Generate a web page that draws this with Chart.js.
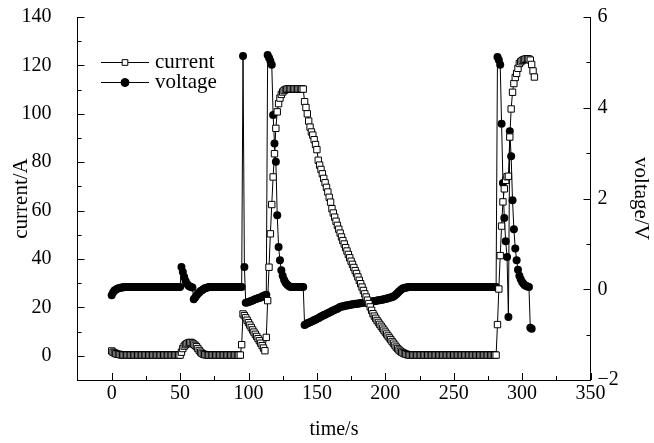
<!DOCTYPE html>
<html>
<head>
<meta charset="utf-8">
<script src="https://cdn.jsdelivr.net/npm/chart.js@4.4.1/dist/chart.umd.min.js"></script>
<style>
  html, body { margin: 0; padding: 0; background: #fff; }
  #wrap { width: 654px; height: 443px; }
</style>
</head>
<body>
<div id="wrap"><canvas id="chart" width="654" height="443"></canvas></div>
<script>
// one sample per second, 0 .. 309 s
const timeS = Array.from({ length: 310 }, (_, i) => i);

// current/A
const currentA = [
  2.0, 1.5, 1.2, 0.9, 0.7, 0.6, 0.5, 0.4, 0.4, 0.3,            // 0
  0.3, 0.3, 0.3, 0.3, 0.3, 0.3, 0.3, 0.3, 0.3, 0.3,            // 10
  0.3, 0.3, 0.3, 0.3, 0.3, 0.3, 0.3, 0.3, 0.3, 0.3,            // 20
  0.3, 0.3, 0.3, 0.3, 0.3, 0.3, 0.3, 0.3, 0.3, 0.3,            // 30
  0.3, 0.3, 0.3, 0.3, 0.3, 0.3, 0.3, 0.3, 0.3, 0.3,            // 40
  0.3, 1.5, 3.0, 4.0, 4.6, 5.0, 5.3, 5.5, 5.5, 5.2,            // 50
  4.8, 4.3, 3.8, 3.0, 2.2, 1.5, 1.0, 0.7, 0.5, 0.4,            // 60
  0.3, 0.3, 0.3, 0.3, 0.3, 0.3, 0.3, 0.3, 0.3, 0.3,            // 70
  0.3, 0.3, 0.3, 0.3, 0.3, 0.3, 0.3, 0.3, 0.3, 0.3,            // 80
  0.3, 0.3, 0.3, 0.3, 0.3, 4.6, 17.3, 16.6, 15.7, 14.7,        // 90
  13.7, 12.7, 11.7, 10.7, 9.8, 8.9, 8.0, 7.1, 6.2, 5.2,        // 100
  4.2, 3.2, 2.1, 7.6, 22.8, 36.6, 50.4, 62.5, 73.9, 83.5,      // 110
  94.0, 100.8, 104.2, 106.5, 108.0, 109.0, 109.6, 110.0, 110.2, 110.3, // 120
  110.3, 110.3, 110.3, 110.3, 110.3, 110.3, 110.3, 110.3, 110.3, 110.3, // 130
  110.2, 105.0, 102.6, 100.0, 97.0, 94.5, 92.5, 91.2, 89.3, 87.3,      // 140
  85.2, 80.8, 78.8, 77.0, 75.2, 73.3, 71.5, 69.6, 67.7, 65.5,  // 150
  63.5, 60.8, 59.0, 57.3, 55.6, 53.9, 52.3, 50.7, 49.1, 47.6,  // 160
  46.2, 44.7, 43.3, 41.9, 40.5, 39.1, 37.8, 36.5, 35.2, 34.0,  // 170
  32.6, 31.2, 29.8, 28.4, 27.0, 25.6, 24.3, 23.0, 21.6, 20.2,  // 180
  18.8, 17.4, 16.4, 15.5, 14.6, 13.8, 13.0, 12.2, 11.4, 10.6,  // 190
  9.8, 9.0, 8.2, 7.4, 6.7, 5.9, 5.2, 4.4, 3.6, 3.0,            // 200
  2.4, 1.9, 1.5, 1.2, 0.9, 0.7, 0.5, 0.4, 0.3, 0.3,            // 210
  0.3, 0.3, 0.3, 0.3, 0.3, 0.3, 0.3, 0.3, 0.3, 0.3,            // 220
  0.3, 0.3, 0.3, 0.3, 0.3, 0.3, 0.3, 0.3, 0.3, 0.3,            // 230
  0.3, 0.3, 0.3, 0.3, 0.3, 0.3, 0.3, 0.3, 0.3, 0.3,            // 240
  0.3, 0.3, 0.3, 0.3, 0.3, 0.3, 0.3, 0.3, 0.3, 0.3,            // 250
  0.3, 0.3, 0.3, 0.3, 0.3, 0.3, 0.3, 0.3, 0.3, 0.3,            // 260
  0.3, 0.3, 0.3, 0.3, 0.3, 0.3, 0.3, 0.3, 0.3, 0.3,            // 270
  0.3, 0.3, 12.9, 27.6, 41.4, 53.6, 63.6, 69.0, 72.5, 74.0,    // 280
  74.2, 90.4, 102.0, 108.9, 112.5, 115.0, 116.7, 118.8, 120.8, 121.5, // 290
  122.0, 122.3, 122.5, 122.7, 122.7, 122.6, 122.2, 120.4, 117.7, 115.2  // 300
];

// voltage/V (no samples after 307 s)
const voltageV = [
  -0.13, -0.07, -0.03, -0.01, 0.01, 0.02, 0.03, 0.04, 0.04, 0.05,    // 0
  0.05, 0.05, 0.05, 0.05, 0.05, 0.05, 0.05, 0.05, 0.05, 0.05,        // 10
  0.05, 0.05, 0.05, 0.05, 0.05, 0.05, 0.05, 0.05, 0.05, 0.05,        // 20
  0.05, 0.05, 0.05, 0.05, 0.05, 0.05, 0.05, 0.05, 0.05, 0.05,        // 30
  0.05, 0.05, 0.05, 0.05, 0.05, 0.05, 0.05, 0.05, 0.05, 0.05,        // 40
  0.05, 0.49, 0.38, 0.27, 0.18, 0.12, 0.08, 0.06, 0.05, 0.04,        // 50
  -0.22, -0.18, -0.14, -0.10, -0.07, -0.04, -0.02, 0.00, 0.02, 0.03, // 60
  0.04, 0.05, 0.05, 0.05, 0.05, 0.05, 0.05, 0.05, 0.05, 0.05,        // 70
  0.05, 0.05, 0.05, 0.05, 0.05, 0.05, 0.05, 0.05, 0.05, 0.05,        // 80
  0.05, 0.05, 0.05, 0.05, 0.05, 0.05, 5.14, 0.49, -0.30, -0.29,      // 90
  -0.28, -0.27, -0.26, -0.25, -0.23, -0.22, -0.21, -0.20, -0.19, -0.18, // 100
  -0.16, -0.15, -0.13, -0.12, 5.16, 5.10, 5.03, 4.95, 3.84, 3.21,    // 110
  2.81, 1.63, 0.93, 0.64, 0.42, 0.30, 0.21, 0.15, 0.11, 0.08,        // 120
  0.06, 0.05, 0.05, 0.05, 0.05, 0.05, 0.05, 0.05, 0.05, 0.05,        // 130
  0.05, -0.79, -0.77, -0.75, -0.74, -0.73, -0.71, -0.70, -0.68, -0.67, // 140
  -0.65, -0.64, -0.62, -0.60, -0.59, -0.57, -0.56, -0.54, -0.53, -0.51, // 150
  -0.50, -0.48, -0.47, -0.45, -0.44, -0.43, -0.41, -0.39, -0.38, -0.38, // 160
  -0.37, -0.36, -0.36, -0.35, -0.34, -0.34, -0.33, -0.33, -0.32, -0.32, // 170
  -0.32, -0.31, -0.31, -0.30, -0.30, -0.29, -0.29, -0.28, -0.28, -0.28, // 180
  -0.27, -0.27, -0.26, -0.26, -0.25, -0.24, -0.24, -0.23, -0.23, -0.22, // 190
  -0.21, -0.21, -0.20, -0.19, -0.18, -0.17, -0.16, -0.14, -0.11, -0.08, // 200
  -0.05, -0.02, 0.00, 0.02, 0.03, 0.04, 0.04, 0.05, 0.05, 0.05,      // 210
  0.05, 0.05, 0.05, 0.05, 0.05, 0.05, 0.05, 0.05, 0.05, 0.05,        // 220
  0.05, 0.05, 0.05, 0.05, 0.05, 0.05, 0.05, 0.05, 0.05, 0.05,        // 230
  0.05, 0.05, 0.05, 0.05, 0.05, 0.05, 0.05, 0.05, 0.05, 0.05,        // 240
  0.05, 0.05, 0.05, 0.05, 0.05, 0.05, 0.05, 0.05, 0.05, 0.05,        // 250
  0.05, 0.05, 0.05, 0.05, 0.05, 0.05, 0.05, 0.05, 0.05, 0.05,        // 260
  0.05, 0.05, 0.05, 0.05, 0.05, 0.05, 0.05, 0.05, 0.05, 0.05,        // 270
  0.05, 0.05, 5.12, 5.05, 4.95, 3.65, 2.34, 1.57, 1.06, 0.71,        // 280
  -0.61, 3.48, 2.93, 1.96, 1.32, 0.90, 0.64, 0.43, 0.30, 0.22,       // 290
  0.16, 0.12, 0.09, 0.07, 0.06, 0.05, -0.85, -0.87, null, null       // 300
];

// tick labels
const timeTicks = [0, 50, 100, 150, 200, 250, 300, 350];
const timeMinor = [25, 75, 125, 175, 225, 275, 325];
const currentTicks = [0, 20, 40, 60, 80, 100, 120, 140];
const currentMinor = [10, 30, 50, 70, 90, 110, 130];
const voltageTicks = [-2, 0, 2, 4, 6];
const voltageMinor = [-1, 1, 3, 5];

const FONT = "'Liberation Serif', 'Times New Roman', serif";

// ticks point into the plot, as in the original
const inwardTicks = {
  id: 'inwardTicks',
  afterDraw(chart) {
    const ctx = chart.ctx;
    const { bottom, left, right } = chart.chartArea;
    const sx = chart.scales.x, sy = chart.scales.y, sy1 = chart.scales.y1;
    ctx.save();
    ctx.strokeStyle = '#000';
    ctx.lineWidth = 1;
    ctx.beginPath();
    const vTick = (v, len) => {
      const px = Math.round(sx.getPixelForValue(v)) + 0.5;
      ctx.moveTo(px, bottom); ctx.lineTo(px, bottom - len);
    };
    const hTick = (scale, v, x0, dir, len) => {
      const py = Math.round(scale.getPixelForValue(v)) + 0.5;
      ctx.moveTo(x0, py); ctx.lineTo(x0 + dir * len, py);
    };
    timeTicks.forEach(v => vTick(v, 7));
    timeMinor.forEach(v => vTick(v, 4));
    currentTicks.forEach(v => hTick(sy, v, left, 1, 7));
    currentMinor.forEach(v => hTick(sy, v, left, 1, 4));
    voltageTicks.forEach(v => hTick(sy1, v, right, -1, 7));
    voltageMinor.forEach(v => hTick(sy1, v, right, -1, 4));
    ctx.stroke();
    ctx.restore();
  }
};

// legend: short line with the marker in the middle, then the name
const lineLegend = {
  id: 'lineLegend',
  afterDraw(chart) {
    const ctx = chart.ctx;
    const rows = [
      { text: 'current', style: 'rect', radius: 4, fill: '#fff', y: 62 },
      { text: 'voltage', style: 'circle', radius: 4, fill: '#000', y: 82 }
    ];
    ctx.save();
    ctx.strokeStyle = '#000';
    ctx.lineWidth = 1;
    ctx.font = '21px ' + FONT;
    ctx.textBaseline = 'middle';
    rows.forEach(r => {
      ctx.beginPath();
      ctx.moveTo(101, r.y + 0.5); ctx.lineTo(149, r.y + 0.5);
      ctx.stroke();
      ctx.fillStyle = r.fill;
      Chart.helpers.drawPoint(ctx, { pointStyle: r.style, radius: r.radius, borderWidth: 1 }, 125, r.y + 0.5);
      ctx.fillStyle = '#000';
      ctx.fillText(r.text, 155, r.y);
    });
    ctx.restore();
  }
};

const toPoints = vals => vals
  .map((v, i) => ({ x: timeS[i], y: v }))
  .filter(p => p.y !== null);

// keep the plot box fixed: the tick padding must not push the top down
const fixWidth = w => s => { s.width = w; s.paddingTop = 0; s.paddingBottom = 0; };

new Chart(document.getElementById('chart'), {
  type: 'line',
  data: {
    datasets: [
      {
        label: 'current',
        data: toPoints(currentA),
        yAxisID: 'y',
        borderColor: '#000',
        borderWidth: 1,
        pointStyle: 'rect',
        pointRadius: 4.5,
        pointBackgroundColor: '#fff',
        pointBorderColor: '#000',
        pointBorderWidth: 1,
        tension: 0
      },
      {
        label: 'voltage',
        data: toPoints(voltageV),
        yAxisID: 'y1',
        borderColor: '#000',
        borderWidth: 1,
        pointStyle: 'circle',
        pointRadius: 4,
        pointBackgroundColor: '#000',
        pointBorderColor: '#000',
        pointBorderWidth: 0,
        tension: 0
      }
    ]
  },
  options: {
    responsive: false,
    animation: false,
    layout: { padding: { top: 17, left: 0, right: 0, bottom: 0 }, autoPadding: false },
    plugins: {
      legend: { display: false },
      tooltip: { enabled: false }
    },
    scales: {
      x: {
        type: 'linear',
        min: -25,
        max: 350,
        afterBuildTicks: s => { s.ticks = timeTicks.map(v => ({ value: v })); },
        afterFit: s => { s.height = 63; s.paddingLeft = 0; s.paddingRight = 0; },
        grid: { display: false, drawTicks: false },
        border: { display: true, color: '#000', width: 1 },
        ticks: { color: '#000', font: { family: FONT, size: 20 }, padding: 2, maxRotation: 0 },
        title: { display: true, text: 'time/s', color: '#000', font: { family: FONT, size: 20 }, padding: { bottom: 1 } }
      },
      y: {
        position: 'left',
        min: -10,
        max: 140,
        afterBuildTicks: s => { s.ticks = currentTicks.map(v => ({ value: v })); },
        afterFit: fixWidth(77.5),
        grid: { display: false, drawTicks: false },
        border: { display: true, color: '#000', width: 1 },
        ticks: { color: '#000', font: { family: FONT, size: 20 }, padding: 26 },
        title: { display: true, text: 'current/A', color: '#000', font: { family: FONT, size: 21 }, padding: { top: 9 } }
      },
      y1: {
        position: 'right',
        min: -2,
        max: 6,
        afterBuildTicks: s => { s.ticks = voltageTicks.map(v => ({ value: v })); },
        afterFit: fixWidth(63.5),
        grid: { display: false, drawTicks: false },
        border: { display: true, color: '#000', width: 1 },
        ticks: {
          color: '#000',
          font: { family: FONT, size: 20 },
          padding: 7,
          callback: v => String(v).replace('-', '\u2212')
        },
        title: { display: true, text: 'voltage/V', color: '#000', font: { family: FONT, size: 21 }, padding: { top: 1 } }
      }
    }
  },
  plugins: [inwardTicks, lineLegend]
});
</script>
</body>
</html>
